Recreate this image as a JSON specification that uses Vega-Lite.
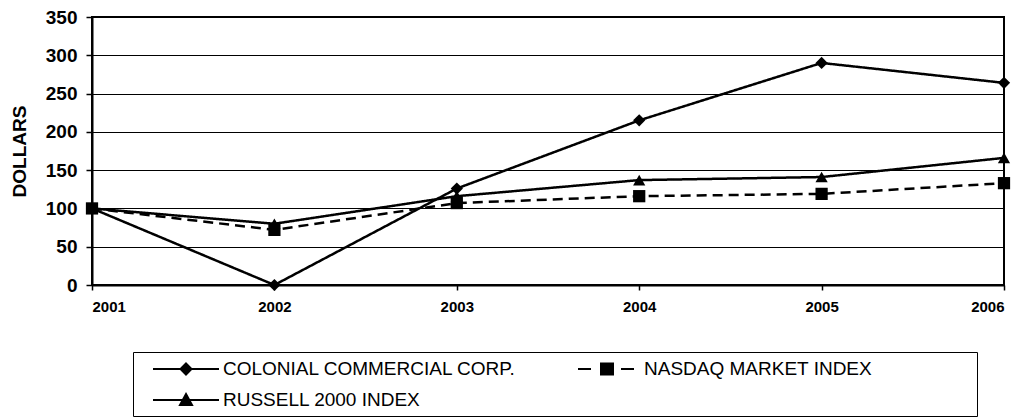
{
  "$schema": "https://vega.github.io/schema/vega-lite/v6.json",
  "width": 912,
  "height": 268,
  "autosize": {"type": "none"},
  "padding": {"left": 92, "top": 17, "right": 21, "bottom": 133},
  "background": "white",
  "config": {"view": {"stroke": "black", "strokeWidth": 2}, "font": "Liberation Sans"},
  "data": {"values": [
    {"year": 2001, "series": "COLONIAL COMMERCIAL CORP.", "value": 100},
    {"year": 2002, "series": "COLONIAL COMMERCIAL CORP.", "value": 0},
    {"year": 2003, "series": "COLONIAL COMMERCIAL CORP.", "value": 126},
    {"year": 2004, "series": "COLONIAL COMMERCIAL CORP.", "value": 215},
    {"year": 2005, "series": "COLONIAL COMMERCIAL CORP.", "value": 290},
    {"year": 2006, "series": "COLONIAL COMMERCIAL CORP.", "value": 264},
    {"year": 2001, "series": "NASDAQ MARKET INDEX", "value": 100},
    {"year": 2002, "series": "NASDAQ MARKET INDEX", "value": 72},
    {"year": 2003, "series": "NASDAQ MARKET INDEX", "value": 107},
    {"year": 2004, "series": "NASDAQ MARKET INDEX", "value": 116},
    {"year": 2005, "series": "NASDAQ MARKET INDEX", "value": 119},
    {"year": 2006, "series": "NASDAQ MARKET INDEX", "value": 133},
    {"year": 2001, "series": "RUSSELL 2000 INDEX", "value": 100},
    {"year": 2002, "series": "RUSSELL 2000 INDEX", "value": 80},
    {"year": 2003, "series": "RUSSELL 2000 INDEX", "value": 116},
    {"year": 2004, "series": "RUSSELL 2000 INDEX", "value": 137},
    {"year": 2005, "series": "RUSSELL 2000 INDEX", "value": 141},
    {"year": 2006, "series": "RUSSELL 2000 INDEX", "value": 166}
  ]},
  "encoding": {
    "x": {
      "field": "year", "type": "quantitative",
      "scale": {"domain": [2001, 2006], "nice": false, "zero": false},
      "axis": {
        "values": [2001, 2002, 2003, 2004, 2005, 2006], "format": "d", "title": null, "grid": false,
        "domainColor": "black", "domainWidth": 2, "tickColor": "black", "tickSize": 5, "tickWidth": 1.5,
        "labelFont": "Liberation Sans", "labelFontWeight": "bold", "labelFontSize": 15, "labelColor": "black", "labelPadding": 9
      }
    },
    "y": {
      "field": "value", "type": "quantitative",
      "scale": {"domain": [0, 350], "nice": false},
      "axis": {
        "values": [0, 50, 100, 150, 200, 250, 300, 350], "title": "DOLLARS",
        "titleFont": "Liberation Sans", "titleFontSize": 19, "titleFontWeight": "bold", "titleColor": "black", "titlePadding": 16,
        "grid": true, "gridColor": "black", "gridWidth": 1, "gridOpacity": 1,
        "domainColor": "black", "domainWidth": 2, "tickColor": "black", "tickSize": 6, "tickWidth": 1.5,
        "labelFont": "Liberation Sans", "labelFontSize": 19, "labelFontWeight": "bold", "labelPadding": 9, "labelColor": "black"
      }
    }
  },
  "layer": [
    {
      "mark": {"type": "line", "color": "black", "strokeWidth": 2.5},
      "encoding": {
        "detail": {"field": "series", "type": "nominal"},
        "strokeDash": {
          "field": "series", "type": "nominal",
          "scale": {"domain": ["NASDAQ MARKET INDEX", "COLONIAL COMMERCIAL CORP.", "RUSSELL 2000 INDEX"], "range": [[10, 6], [1, 0], [1, 0]]},
          "legend": null
        }
      }
    },
    {
      "mark": {"type": "point", "filled": true, "opacity": 1, "size": 150},
      "encoding": {
        "shape": {
          "field": "series", "type": "nominal",
          "scale": {"domain": ["COLONIAL COMMERCIAL CORP.", "NASDAQ MARKET INDEX", "RUSSELL 2000 INDEX"], "range": ["diamond", "square", "triangle-up"]},
          "legend": null
        },
        "color": {
          "field": "series", "type": "nominal",
          "scale": {"range": ["black", "black", "black"]},
          "legend": {
            "title": "\u00a0", "titleOrient": "right", "titlePadding": 99, "titleFontSize": 10,
            "orient": "none", "legendX": 41, "legendY": 335,
            "direction": "horizontal", "columns": 2, "columnPadding": 43, "rowPadding": 10, "padding": 6,
            "gridAlign": "all",
            "strokeColor": "black",
            "symbolSize": 400, "symbolStrokeWidth": 2, "symbolOpacity": 1,
            "labelFont": "Liberation Sans", "labelFontSize": 19, "labelColor": "black", "labelLimit": 800, "labelOffset": 62,
            "encode": {
              "symbols": {
                "update": {
                  "stroke": {"value": "black"},
                  "strokeWidth": {"value": 2},
                  "shape": {"signal": "datum.value === 'COLONIAL COMMERCIAL CORP.' ? 'M0.3,0H6.9M3.6,-0.55L4.15,0L3.6,0.55L3.05,0Z' : datum.value === 'NASDAQ MARKET INDEX' ? 'M0.7,0H2M5,0H6.3M3.0,-0.55H4.2V0.55H3.0Z' : 'M0.3,0H6.9M3.6,-0.6L4.2,0.5L3.0,0.5Z'"}
                }
              }
            }
          }
        }
      }
    }
  ]
}
